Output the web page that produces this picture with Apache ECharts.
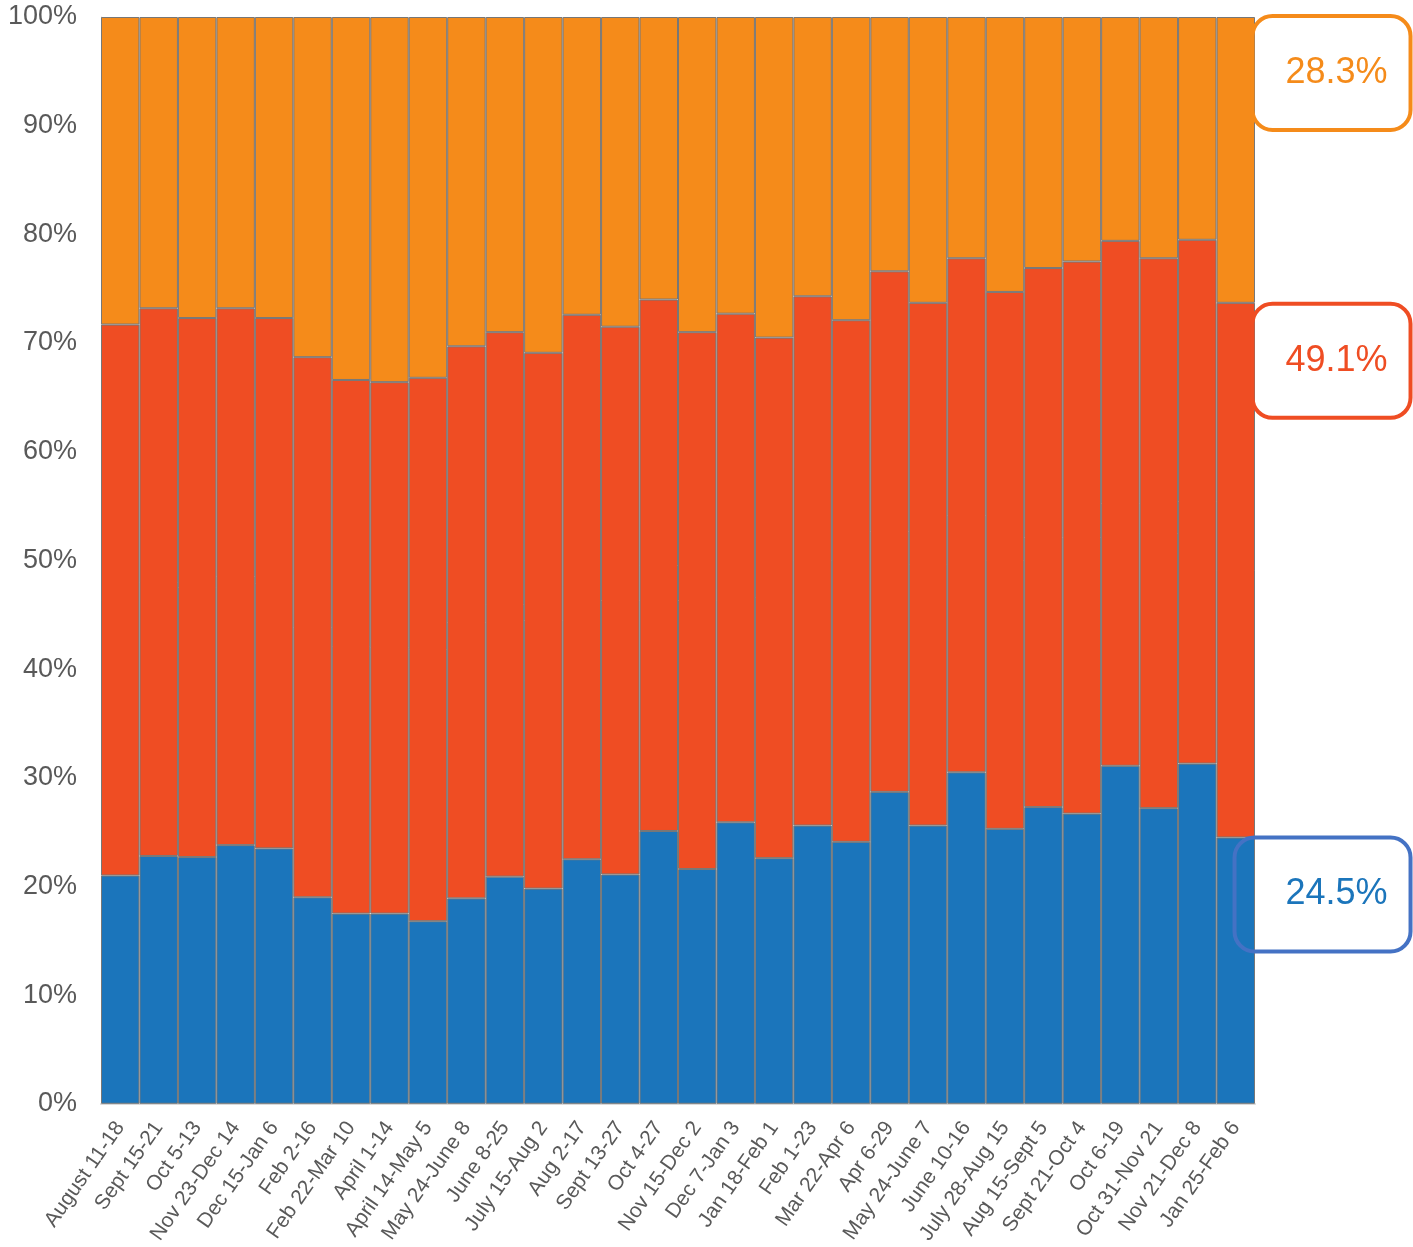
<!DOCTYPE html>
<html>
<head>
<meta charset="utf-8">
<script src="https://cdn.jsdelivr.net/npm/echarts@6/dist/echarts.min.js"></script>
<style>
html,body{margin:0;padding:0;background:#fff;}
#chart{width:1413px;height:1247px;}
</style>
</head>
<body>
<div id="chart"></div>
<script>
var categories = ["August 11-18","Sept 15-21","Oct 5-13","Nov 23-Dec 14","Dec 15-Jan 6","Feb 2-16","Feb 22-Mar 10","April 1-14","April 14-May 5","May 24-June 8","June 8-25","July 15-Aug 2","Aug 2-17","Sept 13-27","Oct 4-27","Nov 15-Dec 2","Dec 7-Jan 3","Jan 18-Feb 1","Feb 1-23","Mar 22-Apr 6","Apr 6-29","May 24-June 7","June 10-16","July 28-Aug 15","Aug 15-Sept 5","Sept 21-Oct 4","Oct 6-19","Oct 31-Nov 21","Nov 21-Dec 8","Jan 25-Feb 6"];
var blueValues = [21.0,22.8,22.7,23.8,23.5,19.0,17.5,17.5,16.8,18.9,20.9,19.8,22.5,21.1,25.1,21.6,25.9,22.6,25.6,24.1,28.7,25.6,30.5,25.3,27.3,26.7,31.1,27.2,31.3,24.5];
var redValues = [50.7,50.4,49.6,49.4,48.8,49.7,49.1,48.9,50.0,50.8,50.1,49.3,50.1,50.4,48.9,49.4,46.8,47.9,48.7,48.0,47.9,48.1,47.3,49.4,49.6,50.8,48.3,50.6,48.2,49.2];
var orangeValues = [28.3,26.8,27.7,26.8,27.7,31.3,33.4,33.6,33.2,30.3,29.0,30.9,27.4,28.5,26.0,29.0,27.3,29.5,25.7,27.9,23.4,26.3,22.2,25.3,23.1,22.5,20.6,22.2,20.5,26.3];
var calloutLabels = ["24.5%","49.1%","28.3%"];
var yTicks = [0,10,20,30,40,50,60,70,80,90,100];

var BLUE = '#1B75BB', RED = '#EF4D23', ORANGE = '#F58B1A';
var FONT = 'Liberation Sans, Arial, Helvetica, sans-serif';

function build(values, idx, color, borderColor, pos, boxW, padLeft) {
  return values.map(function (v, i) {
    if (i !== values.length - 1) return v;
    return {
      value: v,
      label: {
        show: true,
        position: pos,
        align: 'left',
        verticalAlign: 'top',
        formatter: calloutLabels[idx],
        color: color,
        fontSize: 36,
        fontFamily: FONT,
        width: boxW - padLeft,
        height: 114,
        lineHeight: 114,
        padding: [0, 0, 0, padLeft],
        borderColor: borderColor,
        borderWidth: 2,
        borderRadius: 20,
        backgroundColor: 'transparent'
      }
    };
  });
}

var itemBorder = { borderColor: '#777777', borderWidth: 1 };

var chart = echarts.init(document.getElementById('chart'), null, { renderer: 'canvas' });
chart.setOption({
  animation: false,
  backgroundColor: '#ffffff',
  grid: { left: 101, right: 158, top: 17, bottom: 143, containLabel: false },
  xAxis: {
    type: 'category',
    data: categories,
    axisTick: { show: false },
    axisLine: { show: true, lineStyle: { color: '#d9d9d9', width: 2 } },
    axisLabel: { interval: 0, rotate: 55, fontSize: 21, color: '#595959', fontFamily: FONT, margin: 20 }
  },
  yAxis: {
    type: 'value',
    min: 0, max: 100, interval: 10,
    splitLine: { show: false },
    axisTick: { show: false },
    axisLine: { show: true, lineStyle: { color: '#d9d9d9', width: 1 } },
    axisLabel: { fontSize: 27, color: '#595959', fontFamily: FONT, margin: 24,
      formatter: function (v) { return yTicks.indexOf(v) >= 0 ? v + '%' : ''; } }
  },
  series: [
    { type: 'bar', stack: 'a', barCategoryGap: '0%', barGap: '0%',
      itemStyle: Object.assign({ color: BLUE }, itemBorder),
      data: build(blueValues, 0, BLUE, '#4472C4', [18, 0], 176, 51) },
    { type: 'bar', stack: 'a', barCategoryGap: '0%', barGap: '0%',
      itemStyle: Object.assign({ color: RED }, itemBorder),
      data: build(redValues, 1, RED, RED, [36, 1], 158, 33) },
    { type: 'bar', stack: 'a', barCategoryGap: '0%', barGap: '0%',
      itemStyle: Object.assign({ color: ORANGE }, itemBorder),
      data: build(orangeValues, 2, ORANGE, ORANGE, [36, -1], 158, 33) }
  ]
});
</script>
</body>
</html>
